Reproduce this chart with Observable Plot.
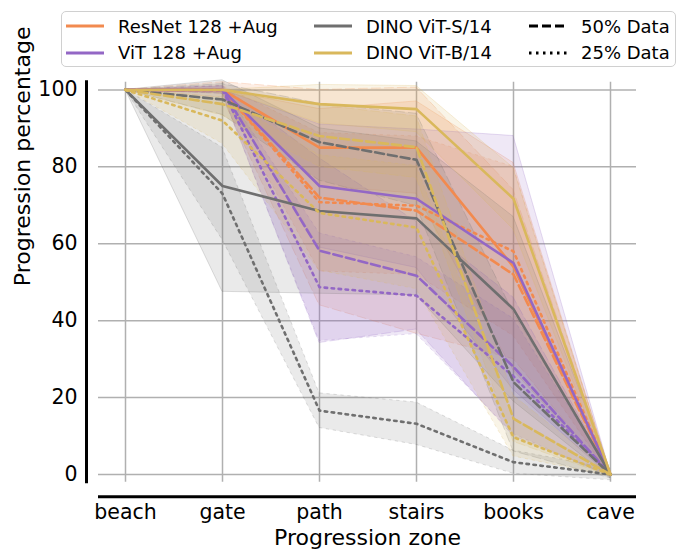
<!DOCTYPE html>
<html><head><meta charset="utf-8">
<script src="https://cdn.jsdelivr.net/npm/d3@7"></script>
<script src="https://cdn.jsdelivr.net/npm/@observablehq/plot@0.6"></script>
<style>
body{margin:0;background:#fff;}
#wrap{position:relative;width:685px;height:560px;font-family:"DejaVu Sans",sans-serif;}
#legend{position:absolute;left:61px;top:11px;width:615px;height:56px;border:1px solid #d0d0d0;border-radius:5px;background:rgba(255,255,255,0.85);box-sizing:border-box;}
.item{position:absolute;height:20px;display:flex;align-items:center;font-size:18px;color:#000;white-space:nowrap;}
.item svg{margin-right:14px;}
</style>
</head><body><div id="wrap"><div id="legend"></div></div>
<script>
const zones = ["beach","gate","path","stairs","books","cave"];
const models = ["ResNet 128 +Aug","ViT 128 +Aug","DINO ViT-S/14","DINO ViT-B/14"];
const modelColors = ["#f28a4f","#9367c5","#6f6f6f","#d9b85c"];
const fractions = ["100% Data","50% Data","25% Data"];
const fractionDash = [null,"9,4","2.5,4.5"];

// mean progression (%) per zone
const resnet100 = [100,100,85,85,54,0];
const resnet50  = [100,100,72,68.6,52,0];
const resnet25  = [100,100,70.8,69.9,58,0];
const vit100    = [100,100,75,71.7,55,0];
const vit50     = [100,100,58.2,51.7,28,0];
const vit25     = [100,100,48.7,46.5,25.5,0];
const dinoS100  = [100,75,68.5,66.6,43,0];
const dinoS50   = [100,97.5,86.4,81.8,24,0];
const dinoS25   = [100,73,16.6,13.2,3.2,0];
const dinoB100  = [100,100,96.3,95,71.7,0];
const dinoB50   = [100,96.3,88,85.1,14.5,0];
const dinoB25   = [100,92,68,64.2,9.7,0];

// spread (std) per zone
const resnet100Sd = [0,0,10,12,27,0.5];
const resnet50Sd  = [0,2,28,32,22,0.5];
const resnet25Sd  = [0,1,18,18,22,0.5];
const vit100Sd    = [0,0,16,18,33,0.5];
const vit50Sd     = [0,1,24,14,18,0.5];
const vit25Sd     = [0,1,14,10,15,0.5];
const dinoS100Sd  = [0,27.5,21.5,20,24,1];
const dinoS50Sd   = [0,4,10,12,18,1];
const dinoS25Sd   = [0,12,4.5,5.5,3,1.5];
const dinoB100Sd  = [0,0,5,6,8,0.5];
const dinoB50Sd   = [0,3,8,8,6,0.5];
const dinoB25Sd   = [0,6,15,16,5,0.5];

const series = [
  [0,0,resnet100,resnet100Sd],[0,1,resnet50,resnet50Sd],[0,2,resnet25,resnet25Sd],
  [1,0,vit100,vit100Sd],[1,1,vit50,vit50Sd],[1,2,vit25,vit25Sd],
  [2,0,dinoS100,dinoS100Sd],[2,1,dinoS50,dinoS50Sd],[2,2,dinoS25,dinoS25Sd],
  [3,0,dinoB100,dinoB100Sd],[3,1,dinoB50,dinoB50Sd],[3,2,dinoB25,dinoB25Sd]
];

const bandMarks = [], lineMarks = [];
for (const [m,f,mean,sd] of series) {
  const rows = zones.map((z,i)=>({zone:z, mean:mean[i], lo:mean[i]-sd[i], hi:mean[i]+sd[i]}));
  const c = modelColors[m];
  bandMarks.push(Plot.areaY(rows,{x:"zone",y1:"lo",y2:"hi",fill:c,fillOpacity:0.15,stroke:c,strokeOpacity:0.22,strokeWidth:1,strokeDasharray:fractionDash[f]}));
  lineMarks.push(Plot.lineY(rows,{x:"zone",y:"mean",stroke:c,strokeWidth:2.6,strokeDasharray:fractionDash[f]}));
}

const chart = Plot.plot({
  width:685, height:560,
  marginLeft:98, marginRight:49, marginTop:81.7, marginBottom:78.3,
  style:{fontFamily:"DejaVu Sans", fontSize:"20px", color:"#000", background:"transparent"},
  x:{type:"point", domain:zones, padding:0.256},
  y:{domain:[-2,102]},
  marks:[
    Plot.gridY([0,20,40,60,80,100],{stroke:"#b0b0b0",strokeOpacity:1,strokeWidth:1.5}),
    Plot.gridX(zones,{stroke:"#b0b0b0",strokeOpacity:1,strokeWidth:1.5}),
    ...bandMarks,
    ...lineMarks,
    Plot.axisY([0,20,40,60,80,100],{tickSize:0,tickPadding:21,fontSize:20.5,label:null}),
    Plot.axisX(zones,{tickSize:0,tickPadding:22,fontSize:20.5,label:null}),
    Plot.ruleX([zones[0]],{dx:-39,stroke:"#000",strokeWidth:3,strokeLinecap:"square"}),
    Plot.ruleY([-2],{dy:14.5,stroke:"#000",strokeWidth:3}),
    Plot.text(["Progression zone"],{frameAnchor:"bottom",dy:56,fontSize:22,lineAnchor:"middle"}),
    Plot.text(["Progression percentage"],{frameAnchor:"left",dx:-76,dy:4,rotate:-90,fontSize:22,lineAnchor:"middle"})
  ]
});
document.getElementById("wrap").prepend(chart);

// legend
const legend = document.getElementById("legend");
const items = [
  {label:models[0], color:modelColors[0], dash:null, x:4, y:14},
  {label:models[1], color:modelColors[1], dash:null, x:4, y:40.7},
  {label:models[2], color:modelColors[2], dash:null, x:252, y:14},
  {label:models[3], color:modelColors[3], dash:null, x:252, y:40.7},
  {label:fractions[1], color:"#000", dash:fractionDash[1], x:467, y:14},
  {label:fractions[2], color:"#000", dash:fractionDash[2], x:467, y:40.7}
];
for (const it of items) {
  const d = document.createElement("div");
  d.className = "item";
  d.style.left = it.x + "px";
  d.style.top = (it.y - 10) + "px";
  d.innerHTML = `<svg width="38" height="8"><line x1="0" y1="4" x2="38" y2="4" stroke="${it.color}" stroke-width="3" ${it.dash ? `stroke-dasharray="${it.dash}"` : ""}/></svg><span>${it.label}</span>`;
  legend.appendChild(d);
}
</script>
</body></html>
